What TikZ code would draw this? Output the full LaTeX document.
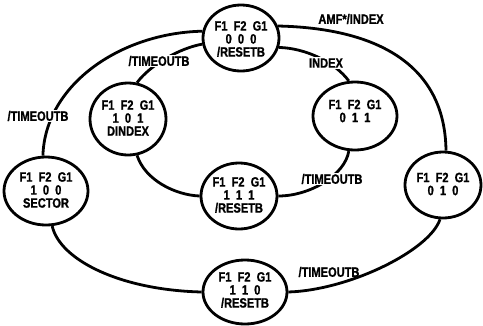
\documentclass[tikz,border=0pt]{standalone}
\usepackage{fontspec}
\setmainfont{Liberation Sans}[FakeStretch=0.82,FakeBold=1.2]
\usetikzlibrary{shapes.geometric}
\begin{document}
\begin{tikzpicture}[x=1pt,y=-1pt,
  state/.style={draw,ellipse,line width=2.8pt,inner sep=0pt},
  stext/.style={align=center,inner sep=0pt,font=\fontsize{13.5}{13}\selectfont\bfseries},
  lab/.style={inner sep=1pt,font=\fontsize{13.5}{13}\selectfont\bfseries},
  labw/.style={lab,fill=white},
  conn/.style={line width=2.8pt}]
\useasboundingbox (0,0) rectangle (483,325);
% states
\node[state,minimum width=76pt,minimum height=66pt] (s000) at (241,38) {};
\node[stext] (t000) at (241,39) {F1\ \ F2\ \ G1\\0\ \ 0\ \ 0\\/RESETB};
\node[state,minimum width=76pt,minimum height=72pt] (s101) at (128,119) {};
\node[stext] (t101) at (128,118) {F1\ \ F2\ \ G1\\1\ \ 0\ \ 1\\DINDEX};
\node[state,minimum width=84pt,minimum height=68pt] (s100) at (46,191) {};
\node[stext] (t100) at (46,190) {F1\ \ F2\ \ G1\\1\ \ 0\ \ 0\\SECTOR};
\node[state,minimum width=84pt,minimum height=68pt] (s011) at (355,116) {};
\node[stext] (t011) at (355,111) {F1\ \ F2\ \ G1\\0\ \ 1\ \ 1};
\node[state,minimum width=76pt,minimum height=66pt] (s111) at (239,196) {};
\node[stext] (t111) at (239,195) {F1\ \ F2\ \ G1\\1\ \ 1\ \ 1\\/RESETB};
\node[state,minimum width=76pt,minimum height=66pt] (s010) at (443,185) {};
\node[stext] (t010) at (443,184) {F1\ \ F2\ \ G1\\0\ \ 1\ \ 0};
\node[state,minimum width=84pt,minimum height=64pt] (s110) at (245,292) {};
\node[stext] (t110) at (245,290) {F1\ \ F2\ \ G1\\1\ \ 1\ \ 0\\/RESETB};
% connectors
\draw[conn] (s000.170) .. controls (120,33) and (45,85) .. (s100.95);
\draw[conn] (s100.-80) .. controls (60,260) and (120,290) .. (s110.180);
\draw[conn] (s110.0) .. controls (350,290) and (430,250) .. (s010.-95);
\draw[conn] (s010.85) .. controls (445,60) and (370,28) .. (s000.18);
\draw[conn] (s000.-14) .. controls (305,48) and (335,62) .. (s011.100);
\draw[conn] (s000.189) .. controls (180,48) and (150,65) .. (s101.76);
\draw[conn] (s101.-76) .. controls (145,180) and (175,195) .. (s111.180);
\draw[conn] (s111.0) .. controls (310,196) and (345,175) .. (s011.-100);
% labels
\node[lab] (l1) at (351,19) {AMF*/INDEX};
\node[labw] (l2) at (38,116) {/TIMEOUTB};
\node[labw] (l3) at (159,61) {/TIMEOUTB};
\node[labw] (l4) at (326,63) {INDEX};
\node[labw] (l5) at (332,179) {/TIMEOUTB};
\node[lab] (l6) at (329,272) {/TIMEOUTB};
\end{tikzpicture}
\end{document}
